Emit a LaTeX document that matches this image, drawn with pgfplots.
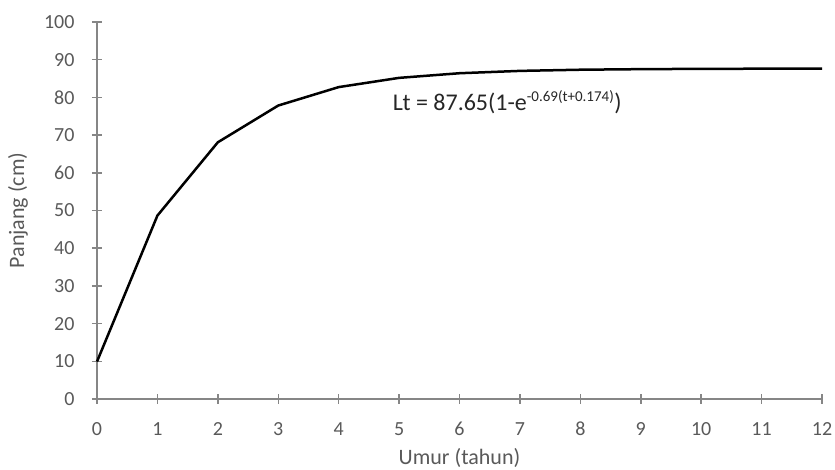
\documentclass[border=0pt]{standalone}
\usepackage{fontspec}
\setmainfont{Carlito}
\usepackage{pgfplots}
\pgfplotsset{compat=1.18}
\definecolor{axgray}{HTML}{868686}
\definecolor{txtgray}{HTML}{595959}
\begin{document}
\begin{tikzpicture}[x=1pt,y=1pt]
\useasboundingbox (-97pt,-71pt) rectangle (738pt,399pt);
\begin{axis}[
  at={(0,0)}, anchor=south west,
  scale only axis, width=725pt, height=377pt,
  xmin=0, xmax=12, ymin=0, ymax=100,
  xtick={0,...,12}, ytick={0,10,...,100},
  axis x line=bottom, axis y line=left,
  axis line style={axgray, line width=2pt, -},
  tick style={axgray, line width=1.5pt},
  major tick length=10pt, tick align=center,
  tick label style={font=\fontsize{20}{22}\selectfont, text=txtgray},
  /pgf/number format/assume math mode=true,
  xticklabel style={anchor=center, yshift=-25pt},
  yticklabel style={anchor=east, xshift=-14pt},
  label style={font=\fontsize{22}{24}\selectfont, text=txtgray},
  xlabel={Umur (tahun)}, ylabel={Panjang (cm)},
  xlabel style={at={(axis description cs:0.5,0)}, anchor=center, yshift=-59pt},
  ylabel style={at={(axis description cs:0,0.5)}, anchor=center, rotate=0, yshift=79pt},
  clip=false,
]
\addplot[black, line width=2.5pt, line join=round] coordinates {
(0,9.92) (1,48.65) (2,68.09) (3,77.84) (4,82.73) (5,85.18) (6,86.41)
(7,87.03) (8,87.34) (9,87.49) (10,87.57) (11,87.61) (12,87.63)};
\node[anchor=west, font=\fontsize{24}{26}\selectfont, text=black!85] at (axis cs:4.84,78.8)
  {Lt = 87.65(1-e\textsuperscript{\fontsize{15}{17}\selectfont -0.69(t+0.174)})};
\end{axis}
\end{tikzpicture}
\end{document}
